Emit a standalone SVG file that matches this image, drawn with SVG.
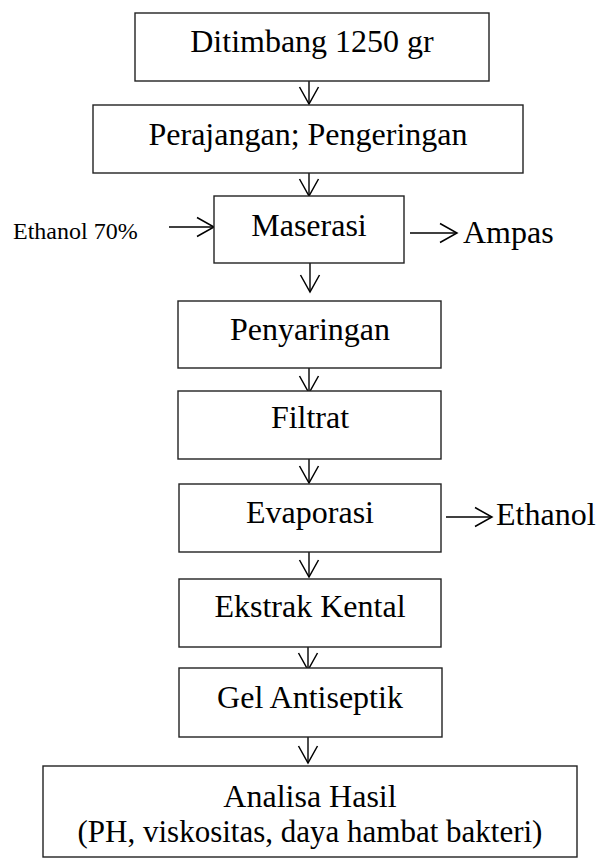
<svg xmlns="http://www.w3.org/2000/svg" width="607" height="860" viewBox="0 0 607 860">
<style>
.box{fill:#fff;stroke:#222;stroke-width:1.4}
.t{font-size:32px;fill:#000;text-anchor:middle}
.ts{font-size:32px;fill:#000}
.c{stroke:#000;stroke-width:1.4;fill:none}
</style>
<defs>
<marker id="ah" markerUnits="userSpaceOnUse" markerWidth="22" markerHeight="24" refX="18" refY="11" orient="auto" viewBox="0 0 22 22">
<path d="M1 1.5 L18 11 L1 20.5" fill="none" stroke="#000" stroke-width="1.5"/>
</marker>
</defs>
<rect width="607" height="860" fill="#fff"/>
<g id="connectors">
<line class="c" x1="309" y1="81" x2="309" y2="104" marker-end="url(#ah)"/>
<line class="c" x1="309" y1="173" x2="309" y2="196" marker-end="url(#ah)"/>
<line class="c" x1="310" y1="263" x2="310" y2="292" marker-end="url(#ah)"/>
<line class="c" x1="309" y1="368" x2="309" y2="393" marker-end="url(#ah)"/>
<line class="c" x1="309" y1="459" x2="309" y2="483" marker-end="url(#ah)"/>
<line class="c" x1="309" y1="552" x2="309" y2="577" marker-end="url(#ah)"/>
<line class="c" x1="308" y1="647" x2="308" y2="670" marker-end="url(#ah)"/>
<line class="c" x1="308" y1="737" x2="308" y2="763" marker-end="url(#ah)"/>
<line class="c" x1="169" y1="227" x2="214" y2="227" marker-end="url(#ah)"/>
<line class="c" x1="410" y1="233" x2="457" y2="233" marker-end="url(#ah)"/>
<line class="c" x1="446" y1="517" x2="492" y2="517" marker-end="url(#ah)"/>
</g>
<g font-family="Liberation Serif, Times New Roman, serif">
<g id="n1"><rect class="box" x="135" y="13" width="354" height="68"/><text class="t" x="312" y="52">Ditimbang 1250 gr</text></g>
<g id="n2"><rect class="box" x="93" y="105" width="430" height="68"/><text class="t" x="308" y="145">Perajangan; Pengeringan</text></g>
<g id="n3"><rect class="box" x="214" y="196" width="190" height="67"/><text class="t" x="309" y="236">Maserasi</text></g>
<g id="in1"><text class="ts" x="13" y="239" style="font-size:24px">Ethanol 70%</text></g>
<g id="out1"><text class="ts" x="463" y="243">Ampas</text></g>
<g id="n4"><rect class="box" x="178" y="301" width="263" height="67"/><text class="t" x="310" y="340">Penyaringan</text></g>
<g id="n5"><rect class="box" x="178" y="391" width="263" height="68"/><text class="t" x="310" y="428">Filtrat</text></g>
<g id="n6"><rect class="box" x="179" y="484" width="262" height="68"/><text class="t" x="310" y="523">Evaporasi</text></g>
<g id="out2"><text class="ts" x="496" y="525">Ethanol</text></g>
<g id="n7"><rect class="box" x="179" y="579" width="262" height="68"/><text class="t" x="310" y="617">Ekstrak Kental</text></g>
<g id="n8"><rect class="box" x="179" y="668" width="263" height="69"/><text class="t" x="310" y="708">Gel Antiseptik</text></g>
<g id="n9"><rect class="box" x="43" y="766" width="534" height="91"/><text class="t" x="310" y="807">Analisa Hasil</text><text class="t" x="310" y="842" style="font-size:31px">(PH, viskositas, daya hambat bakteri)</text></g>
</g>
</svg>
